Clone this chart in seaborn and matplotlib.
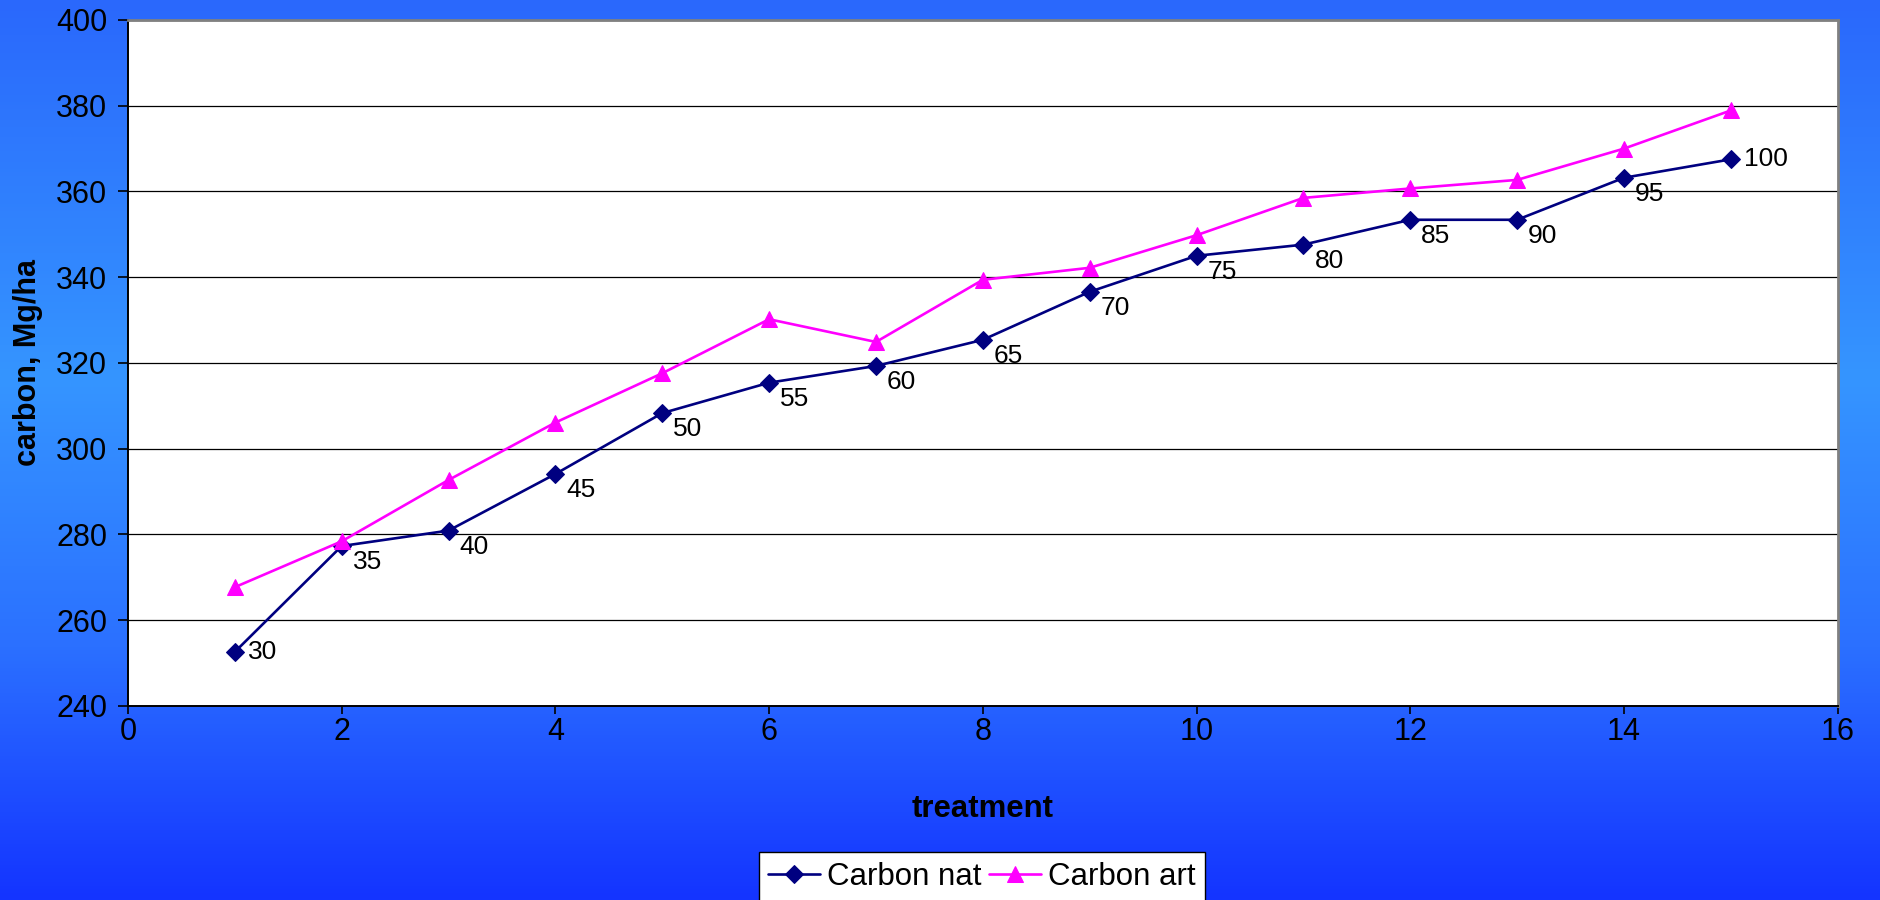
import matplotlib
matplotlib.use("Agg")
import matplotlib.pyplot as plt
from matplotlib.colors import LinearSegmentedColormap
import seaborn as sns
import numpy as np
import pandas as pd

# veriler
treatment = [1, 2, 3, 4, 5, 6, 7, 8, 9, 10, 11, 12, 13, 14, 15]
carbon_nat = [252.6, 277.3, 280.9, 294.1, 308.3, 315.4, 319.3, 325.4, 336.6, 345.0,
              347.6, 353.4, 353.4, 363.2, 367.5]
carbon_art = [267.7, 278.4, 292.7, 306.1, 317.6, 330.2, 324.9, 339.4, 342.2, 349.8,
              358.5, 360.7, 362.7, 370.0, 378.9]
nat_labels = ["30", "35", "40", "45", "50", "55", "60", "65", "70", "75",
              "80", "85", "90", "95", "100"]

x_ticks = [0, 2, 4, 6, 8, 10, 12, 14, 16]
y_ticks = [240, 260, 280, 300, 320, 340, 360, 380, 400]

df = pd.DataFrame({"treatment": treatment, "Carbon nat": carbon_nat, "Carbon art": carbon_art})

sns.set_style("white")
plt.rcParams["font.family"] = ["Liberation Sans", "DejaVu Sans"]
plt.rcParams["text.color"] = "black"
plt.rcParams["axes.labelcolor"] = "black"

fig = plt.figure(figsize=(18.81, 9), dpi=100)

# arka plan gradyani
bg = fig.add_axes([0, 0, 1, 1], zorder=0)
cmap = LinearSegmentedColormap.from_list(
    "bg", [(0.0, "#2a68fc"), (0.42, "#3595ff"), (0.72, "#2b70ff"), (1.0, "#1434ff")])
bg.imshow(np.linspace(0, 1, 256).reshape(-1, 1), aspect="auto", cmap=cmap,
          extent=[0, 1, 0, 1], origin="upper")
bg.set_axis_off()

ax = fig.add_axes([0.068, 0.2156, 0.909, 0.7622], zorder=1)
ax.set_facecolor("white")

sns.lineplot(data=df, x="treatment", y="Carbon nat", ax=ax, color="#000080",
             marker="D", markersize=9.5, markeredgecolor="#000080", linewidth=1.9,
             label="Carbon nat")
sns.lineplot(data=df, x="treatment", y="Carbon art", ax=ax, color="#ff00ff",
             marker="^", markersize=11.5, markeredgecolor="#ff00ff", linewidth=1.9,
             label="Carbon art")

# veri etiketleri
for i, (xv, yv, lab) in enumerate(zip(treatment, carbon_nat, nat_labels)):
    if i == 0 or i == len(treatment) - 1:
        ax.annotate(lab, (xv, yv), xytext=(13, 0), textcoords="offset pixels",
                    ha="left", va="center", fontsize=19, color="black")
    else:
        ax.annotate(lab, (xv, yv), xytext=(11, -4), textcoords="offset pixels",
                    ha="left", va="top", fontsize=19, color="black")

ax.set_xlim(0, 16)
ax.set_ylim(240, 400)
ax.set_xticks(x_ticks)
ax.set_yticks(y_ticks)
ax.yaxis.grid(True, color="black", linewidth=0.9)
ax.set_axisbelow(True)

ax.tick_params(axis="both", labelsize=22, colors="black", direction="out")
ax.tick_params(axis="y", length=7, width=1.2, pad=8, left=True)
ax.tick_params(axis="x", length=6, width=1.2, pad=2, bottom=True)

for s in ["left", "bottom"]:
    ax.spines[s].set_color("black")
    ax.spines[s].set_linewidth(1.4)
for s in ["top", "right"]:
    ax.spines[s].set_color("#808080")
    ax.spines[s].set_linewidth(2)

ax.set_xlabel("treatment", fontsize=22.4, fontweight="bold", labelpad=34, color="black")
ax.set_ylabel("carbon, Mg/ha", fontsize=22, fontweight="bold", labelpad=9, color="black")

ax.get_legend().remove()
h, l = ax.get_legend_handles_labels()
leg = fig.legend(h, l, loc="upper center", bbox_to_anchor=(0.522, 0.053), ncol=2,
                 fontsize=22.5, frameon=True, fancybox=False, framealpha=1,
                 edgecolor="black", handlelength=1.65, handletextpad=0.22,
                 columnspacing=0.25, borderpad=0.3, borderaxespad=0,
                 labelcolor="black")
leg.get_frame().set_linewidth(1.0)

fig.savefig("out.png", dpi=100)
